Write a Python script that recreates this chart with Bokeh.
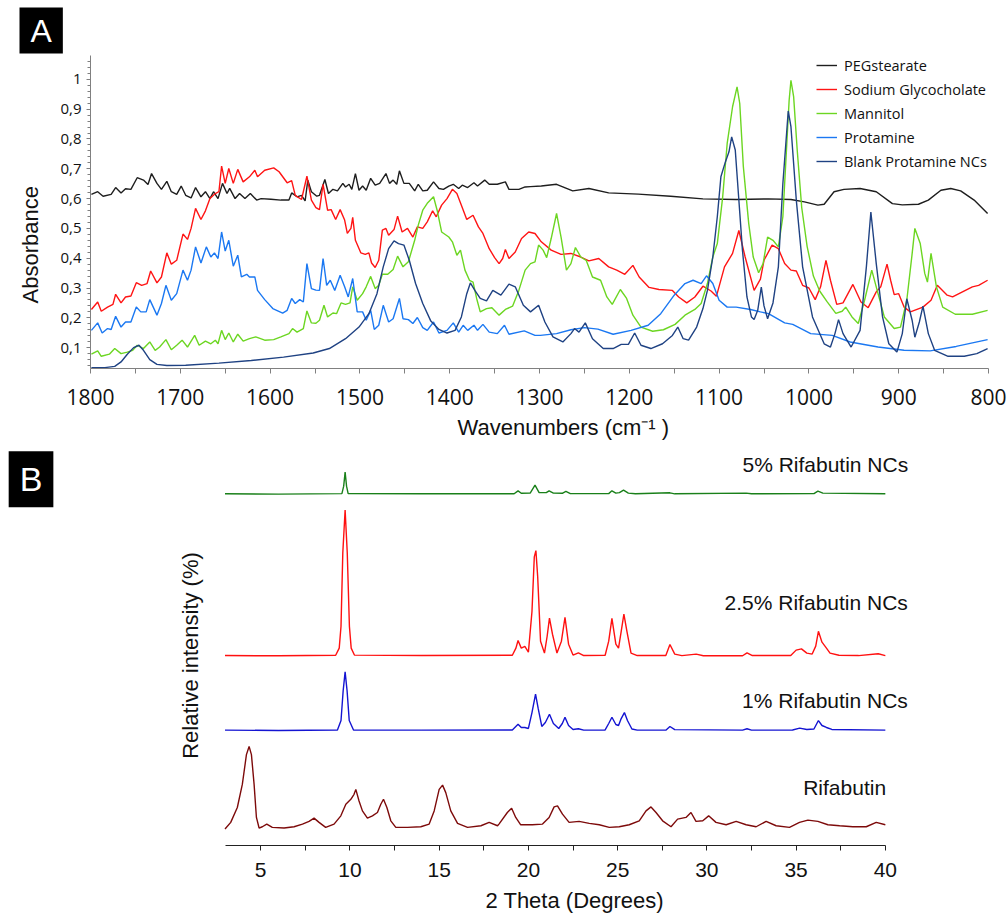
import math
from bokeh.plotting import figure
from bokeh.models import (Range1d, FixedTicker, CustomJSTickFormatter, Legend,
                          LegendItem, Label, Title)
from bokeh.layouts import column
from bokeh.embed import file_html
from bokeh.resources import INLINE

# ---------------- Panel A : FTIR spectra (wavenumber, absorbance) ----------------
peg_stearate = [(1799, .614), (1792, .623), (1786, .608), (1777, .614), (1772, .637), (1766, .619),
    (1761, .633), (1755, .631), (1748, .670), (1741, .662), (1736, .647), (1732, .684), (1726, .651),
    (1721, .631), (1715, .658), (1710, .623), (1704, .614), (1699, .642), (1694, .611), (1688, .602),
    (1683, .637), (1677, .606), (1672, .623), (1667, .600), (1663, .623), (1658, .600), (1653, .651),
    (1648, .617), (1645, .634), (1639, .600), (1634, .617), (1628, .600), (1622, .617), (1615, .595),
    (1610, .600), (1599, .598), (1588, .595), (1579, .595), (1576, .619), (1570, .606), (1565, .611),
    (1561, .592), (1558, .662), (1554, .623), (1548, .608), (1545, .611), (1539, .664), (1535, .617),
    (1530, .631), (1525, .626), (1519, .651), (1516, .639), (1512, .648), (1509, .631), (1505, .684),
    (1501, .628), (1497, .642), (1493, .628), (1488, .668), (1483, .645), (1478, .651), (1471, .684),
    (1467, .651), (1463, .662), (1459, .648), (1456, .693), (1451, .651), (1445, .651), (1439, .626),
    (1435, .648), (1430, .626), (1425, .628), (1418, .656), (1412, .634), (1407, .631), (1401, .642),
    (1396, .648), (1390, .634), (1386, .645), (1380, .637), (1373, .653), (1369, .642), (1361, .662),
    (1356, .648), (1347, .648), (1338, .656), (1334, .631), (1323, .631), (1316, .639), (1310, .640),
    (1298, .642), (1281, .648), (1263, .626), (1245, .634), (1223, .619), (1190, .615), (1154, .608),
    (1118, .599), (1081, .597), (1045, .599), (1020, .597), (1005, .589), (990, .578), (983, .581),
    (972, .623), (961, .631), (943, .634), (925, .623), (907, .583), (896, .579), (878, .581),
    (867, .595), (853, .628), (842, .634), (831, .626), (816, .595), (801, .550)]

sodium_glycocholate = [(1799, .228), (1792, .253), (1788, .222), (1781, .236), (1775, .245),
    (1772, .279), (1766, .250), (1761, .270), (1755, .273), (1749, .318), (1743, .309), (1737, .315),
    (1733, .357), (1726, .317), (1721, .337), (1715, .418), (1710, .380), (1704, .393), (1697, .481),
    (1692, .463), (1688, .500), (1683, .567), (1677, .530), (1672, .559), (1667, .600), (1661, .617),
    (1657, .623), (1654, .709), (1650, .651), (1646, .701), (1641, .651), (1636, .698), (1630, .656),
    (1623, .673), (1617, .695), (1614, .673), (1606, .695), (1596, .703), (1590, .690), (1581, .653),
    (1576, .660), (1572, .611), (1565, .597), (1559, .675), (1554, .595), (1549, .570), (1545, .563),
    (1541, .648), (1536, .561), (1532, .563), (1527, .530), (1522, .563), (1517, .528), (1514, .483),
    (1510, .500), (1508, .537), (1505, .460), (1499, .418), (1494, .413), (1490, .418), (1487, .384),
    (1483, .369), (1479, .393), (1475, .494), (1471, .500), (1468, .477), (1462, .496), (1458, .541),
    (1453, .488), (1447, .500), (1441, .471), (1436, .505), (1430, .500), (1425, .522), (1419, .559),
    (1415, .539), (1409, .578), (1403, .600), (1397, .631), (1392, .617), (1387, .578), (1381, .530),
    (1374, .544), (1368, .505), (1363, .483), (1356, .432), (1350, .402), (1345, .382), (1341, .399),
    (1338, .429), (1334, .399), (1327, .421), (1320, .466), (1312, .488), (1305, .483), (1298, .455),
    (1287, .427), (1276, .413), (1265, .416), (1254, .404), (1245, .391), (1234, .399), (1223, .371),
    (1214, .360), (1205, .346), (1196, .376), (1189, .337), (1178, .302), (1167, .295), (1152, .292),
    (1145, .270), (1136, .250), (1127, .270), (1118, .306), (1109, .290), (1103, .272), (1094, .371),
    (1085, .416), (1078, .493), (1071, .404), (1061, .292), (1054, .330), (1050, .393), (1041, .444),
    (1034, .432), (1027, .382), (1020, .360), (1014, .357), (1007, .309), (1000, .300), (993, .261),
    (987, .304), (981, .393), (976, .326), (969, .245), (962, .250), (951, .312), (942, .253),
    (934, .234), (925, .287), (920, .304), (913, .380), (909, .326), (905, .278), (900, .281),
    (894, .236), (887, .220), (873, .236), (864, .259), (857, .309), (846, .276), (840, .270),
    (829, .287), (818, .304), (811, .309), (801, .326)]

mannitol = [(1799, .078), (1792, .089), (1788, .071), (1779, .078), (1773, .097), (1766, .080),
    (1759, .085), (1753, .091), (1748, .108), (1741, .097), (1734, .119), (1728, .091), (1723, .102),
    (1716, .127), (1710, .093), (1704, .108), (1698, .125), (1692, .102), (1684, .141), (1679, .108),
    (1672, .122), (1666, .113), (1661, .125), (1658, .113), (1654, .158), (1650, .127), (1646, .149),
    (1641, .119), (1636, .145), (1630, .122), (1623, .130), (1616, .136), (1606, .125), (1596, .127),
    (1588, .136), (1579, .147), (1575, .164), (1570, .152), (1563, .164), (1559, .223), (1554, .183),
    (1549, .182), (1545, .192), (1540, .242), (1536, .203), (1530, .216), (1526, .214), (1521, .250),
    (1516, .245), (1511, .250), (1508, .304), (1503, .259), (1497, .281), (1493, .304), (1488, .339),
    (1483, .298), (1479, .309), (1475, .346), (1469, .346), (1463, .362), (1458, .407), (1452, .371),
    (1446, .388), (1439, .460), (1435, .511), (1430, .561), (1425, .584), (1418, .606), (1414, .561),
    (1409, .488), (1401, .471), (1397, .455), (1392, .410), (1388, .427), (1383, .360), (1378, .326),
    (1374, .320), (1370, .265), (1366, .220), (1359, .231), (1353, .234), (1345, .209), (1338, .228),
    (1330, .239), (1323, .292), (1316, .360), (1310, .382), (1305, .388), (1301, .444), (1296, .427),
    (1292, .402), (1287, .466), (1281, .550), (1276, .471), (1270, .360), (1265, .382), (1260, .436),
    (1254, .404), (1248, .393), (1241, .337), (1232, .326), (1225, .270), (1219, .245), (1210, .295),
    (1203, .265), (1196, .209), (1187, .169), (1174, .155), (1162, .160), (1149, .178), (1138, .209),
    (1127, .228), (1120, .248), (1113, .315), (1107, .404), (1102, .449), (1096, .606), (1091, .785),
    (1085, .908), (1080, .975), (1077, .919), (1073, .707), (1067, .516), (1062, .404), (1056, .351),
    (1051, .382), (1046, .471), (1040, .460), (1034, .438), (1029, .539), (1025, .762), (1022, .930),
    (1020, .997), (1017, .942), (1013, .762), (1008, .570), (1002, .440), (995, .340), (988, .290),
    (980, .255), (970, .215), (963, .222), (959, .236), (952, .203), (945, .181), (938, .259),
    (930, .360), (923, .281), (916, .203), (905, .164), (898, .169), (891, .259), (885, .416),
    (882, .500), (876, .449), (871, .349), (868, .320), (864, .416), (858, .304), (851, .236),
    (837, .212), (818, .212), (801, .225)]

protamine = [(1799, .158), (1792, .183), (1787, .149), (1781, .164), (1777, .161), (1772, .205),
    (1766, .169), (1761, .186), (1755, .186), (1749, .236), (1744, .220), (1738, .220), (1734, .261),
    (1726, .209), (1721, .248), (1716, .309), (1710, .259), (1704, .281), (1697, .360), (1692, .326),
    (1688, .360), (1683, .438), (1677, .384), (1671, .438), (1666, .404), (1662, .418), (1658, .399),
    (1654, .488), (1650, .424), (1646, .460), (1641, .373), (1636, .410), (1632, .337), (1626, .346),
    (1623, .337), (1617, .337), (1614, .292), (1606, .261), (1597, .231), (1586, .216), (1581, .225),
    (1576, .265), (1572, .248), (1567, .261), (1563, .253), (1559, .382), (1554, .298), (1549, .293),
    (1545, .292), (1541, .399), (1537, .309), (1533, .326), (1528, .292), (1522, .343), (1517, .304),
    (1513, .270), (1508, .332), (1503, .220), (1497, .220), (1493, .192), (1488, .225), (1484, .161),
    (1479, .175), (1474, .242), (1468, .186), (1463, .197), (1456, .265), (1452, .197), (1446, .194),
    (1441, .181), (1436, .201), (1430, .167), (1425, .158), (1418, .186), (1412, .149), (1403, .158),
    (1396, .183), (1390, .152), (1385, .175), (1380, .158), (1373, .175), (1369, .158), (1363, .178),
    (1356, .152), (1347, .147), (1339, .175), (1334, .145), (1317, .156), (1305, .141), (1299, .141),
    (1281, .147), (1265, .160), (1250, .167), (1235, .162), (1218, .145), (1198, .158), (1179, .175),
    (1165, .214), (1150, .276), (1138, .315), (1129, .326), (1120, .315), (1114, .341), (1107, .315),
    (1100, .259), (1091, .236), (1081, .236), (1065, .228), (1054, .220), (1045, .214), (1027, .183),
    (1018, .178), (998, .147), (974, .141), (954, .119), (923, .102), (894, .091), (865, .089),
    (836, .104), (801, .127)]

blank_protamine_ncs = [(1799, .033), (1784, .033), (1773, .037), (1766, .052), (1759, .078),
    (1752, .100), (1746, .108), (1741, .091), (1734, .060), (1726, .044), (1715, .040), (1694, .041),
    (1657, .048), (1621, .057), (1585, .068), (1552, .082), (1534, .097), (1516, .130), (1501, .169),
    (1490, .214), (1481, .281), (1474, .371), (1468, .432), (1462, .458), (1457, .449), (1451, .444),
    (1445, .393), (1438, .315), (1430, .248), (1421, .189), (1412, .161), (1403, .149), (1394, .158),
    (1387, .203), (1381, .281), (1377, .317), (1372, .292), (1366, .265), (1359, .257), (1352, .292),
    (1343, .276), (1334, .313), (1327, .304), (1318, .242), (1310, .220), (1301, .242), (1294, .186),
    (1285, .136), (1274, .119), (1265, .147), (1261, .164), (1256, .152), (1249, .183), (1241, .130),
    (1229, .097), (1218, .097), (1209, .111), (1201, .111), (1194, .149), (1187, .108), (1176, .097),
    (1163, .113), (1152, .141), (1146, .169), (1140, .130), (1134, .125), (1125, .169), (1118, .231),
    (1113, .292), (1107, .404), (1102, .539), (1098, .673), (1093, .723), (1089, .757), (1086, .807),
    (1082, .763), (1078, .595), (1074, .427), (1069, .270), (1064, .203), (1061, .194), (1057, .225),
    (1053, .303), (1050, .240), (1046, .197), (1040, .250), (1034, .371), (1029, .650), (1023, .894),
    (1020, .841), (1014, .594), (1007, .371), (996, .203), (983, .113), (976, .102), (971, .147),
    (967, .194), (962, .147), (953, .102), (943, .158), (936, .371), (931, .555), (925, .382),
    (918, .203), (911, .113), (902, .085), (896, .147), (891, .264), (885, .191), (882, .135),
    (877, .186), (873, .239), (867, .147), (860, .091), (845, .071), (827, .071), (813, .080),
    (801, .097)]

ftir_names = ["PEGstearate", "Sodium Glycocholate", "Mannitol", "Protamine", "Blank Protamine NCs"]
ftir_series = [peg_stearate, sodium_glycocholate, mannitol, protamine, blank_protamine_ncs]
ftir_colors = ["#1e1e1e", "#ff1414", "#6cd622", "#1b78f2", "#1f4283"]

A_xticks = [800, 900, 1000, 1100, 1200, 1300, 1400, 1500, 1600, 1700, 1800]
A_xminor = [850, 950, 1050, 1150, 1250, 1350, 1450, 1550, 1650, 1750]
A_yticks = [0.1, 0.2, 0.3, 0.4, 0.5, 0.6, 0.7, 0.8, 0.9, 1.0]
A_yminor = [0.04, 0.06, 0.08, 0.12, 0.14, 0.16, 0.18, 0.22, 0.24, 0.26, 0.28, 0.32, 0.34, 0.36,
            0.38, 0.42, 0.44, 0.46, 0.48, 0.52, 0.54, 0.56, 0.58, 0.62, 0.64, 0.66, 0.68, 0.72,
            0.74, 0.76, 0.78, 0.82, 0.84, 0.86, 0.88, 0.92, 0.94, 0.96, 0.98, 1.02, 1.04, 1.06]

# ---------------- Panel B : XRD patterns (2 theta, intensity above own baseline) ----------------
xrd_5pct = [(3.0, 0.3), (6.0, 0.0), (9.55, 0.5), (9.65, 8), (9.73, 22.3), (9.81, 8), (9.9, 0.5),
    (14.0, 0.3), (19.2, 0.3), (19.42, 3.3), (19.6, 0.8), (20.1, 1), (20.37, 9), (20.6, 1.5),
    (21.0, 1.5), (21.16, 3.3), (21.4, 1), (21.9, 0.8), (22.1, 2.7), (22.35, 0.5), (24.5, 0.5),
    (24.68, 3.3), (24.9, 1), (25.1, 1.5), (25.33, 4), (25.6, 1), (26.0, 0.3), (27.93, 1.3),
    (28.2, 0.3), (32.2, 1), (32.5, 0.3), (36.0, 0.5), (36.22, 3), (36.5, 1), (40.0, 0.3)]

xrd_2_5pct = [(3.0, 0.5), (6.0, 0.3), (9.2, 0.8), (9.4, 8), (9.5, 30), (9.6, 104), (9.73, 147.3),
    (9.85, 104), (9.97, 30), (10.07, 8), (10.25, 1), (14.0, 0.5), (19.1, 0.8), (19.3, 8),
    (19.42, 15.7), (19.6, 8), (19.8, 9.7), (20.0, 4), (20.2, 45), (20.33, 100), (20.42, 106.3),
    (20.52, 80), (20.68, 15), (20.9, 3), (21.05, 20), (21.18, 38.3), (21.35, 22), (21.6, 3),
    (21.85, 15), (22.05, 39), (22.25, 12), (22.5, 1), (22.8, 3.3), (23.1, 0.5), (24.3, 0.8),
    (24.5, 15), (24.68, 38), (24.9, 12), (25.05, 8), (25.2, 25), (25.35, 42.3), (25.52, 25),
    (25.75, 3), (26.1, 0.5), (27.7, 0.5), (27.93, 11.7), (28.2, 2), (28.6, 0.5), (29.4, 2),
    (29.8, 0.3), (32.0, 0.3), (32.25, 3.3), (32.55, 0.5), (34.7, 0.5), (35.0, 6), (35.3, 7.3),
    (35.6, 3), (35.9, 2), (36.1, 10), (36.25, 25), (36.45, 14), (36.7, 8), (36.9, 3), (37.4, 0.8),
    (38.5, 0.5), (39.6, 2.3), (40.0, 0.5)]

xrd_1pct = [(3.0, 0.3), (6.0, 0.0), (9.3, 0.5), (9.5, 10), (9.62, 40), (9.73, 59), (9.84, 40),
    (9.96, 10), (10.2, 0.5), (14.0, 0.3), (19.1, 0.5), (19.42, 6.3), (19.6, 3), (19.8, 3),
    (20.0, 2), (20.2, 18), (20.4, 36.7), (20.55, 22), (20.75, 4), (20.95, 8), (21.18, 16.3),
    (21.4, 7), (21.7, 2), (21.9, 7), (22.05, 13.3), (22.25, 5), (22.5, 1), (22.8, 1.7), (23.1, 0.3),
    (24.3, 0.5), (24.5, 7), (24.68, 13.3), (24.9, 6), (25.05, 5), (25.2, 12), (25.38, 18),
    (25.55, 10), (25.8, 1.5), (26.1, 0.3), (27.7, 0.3), (27.93, 4), (28.2, 0.8), (32.0, 0.3),
    (32.25, 1.7), (32.5, 0.3), (34.8, 0.5), (35.2, 2.3), (35.6, 1), (36.0, 1.5), (36.25, 10),
    (36.45, 5), (36.7, 3), (37.0, 1), (40.0, 0.3)]

xrd_rifabutin = [(3.0, -1), (3.32, 5.7), (3.69, 20.7), (3.97, 44), (4.2, 74), (4.35, 82.3),
    (4.48, 74), (4.63, 44), (4.76, 10.7), (4.91, 0), (5.09, 1.3), (5.34, 4), (5.65, 0.7),
    (6.31, 0), (6.87, 1.3), (7.34, 4), (7.71, 6.7), (7.99, 10), (8.27, 5.7), (8.64, 0.7),
    (9.11, 4), (9.49, 12.3), (9.77, 24), (10.05, 29), (10.23, 34), (10.33, 39), (10.51, 27.3),
    (10.7, 17.3), (10.98, 10), (11.26, 12.3), (11.54, 15.7), (11.73, 24), (11.88, 29),
    (12.07, 20.7), (12.29, 7.3), (12.57, 0.7), (13.22, 0.7), (13.97, 1.3), (14.44, 4),
    (14.72, 17.3), (15.0, 39), (15.19, 43.3), (15.37, 35.7), (15.65, 17.3), (16.03, 4.7),
    (16.59, 0.7), (17.34, 2.3), (17.8, 5.7), (18.27, 2.3), (18.35, 4), (18.82, 15.7), (19.06, 20),
    (19.29, 10.7), (19.57, 3.3), (20.22, 3.3), (20.79, 4), (21.16, 10.7), (21.44, 21.3),
    (21.63, 22.3), (21.91, 14), (22.28, 5.7), (22.84, 6.7), (23.41, 4.7), (23.97, 3.3),
    (24.53, 0.7), (25.09, 1.3), (25.65, 3.3), (26.21, 7.3), (26.59, 17.3), (26.87, 21.3),
    (27.15, 15.7), (27.52, 7.3), (27.99, 1.3), (28.36, 9), (28.83, 10.7), (29.11, 15.7),
    (29.39, 6.7), (29.77, 7.3), (30.1, 12.3), (30.51, 5.7), (31.08, 3.3), (31.64, 6.7),
    (32.2, 3.3), (32.76, 1.3), (33.32, 6.7), (33.88, 2.3), (34.63, 0.7), (35.19, 5.7),
    (35.66, 8), (36.22, 6.7), (36.78, 3.3), (37.44, 2.3), (38.18, 1.3), (38.93, 1.3),
    (39.49, 5.7), (40.0, 3.3)]

xrd_names = ["5% Rifabutin NCs", "2.5% Rifabutin NCs", "1% Rifabutin NCs", "Rifabutin"]
xrd_series = [xrd_5pct, xrd_2_5pct, xrd_1pct, xrd_rifabutin]
xrd_offsets = [354.3, 191.0, 116.0, 17.6]
xrd_colors = ["#1a801a", "#ff1010", "#1414d2", "#7d0a0a"]
xrd_label_pos = [(41.28, 384.3), (41.26, 245.0), (41.26, 146.0), (40.04, 58.3)]

B_xticks = [5, 10, 15, 20, 25, 30, 35, 40]
B_xminor = [7.5, 12.5, 17.5, 22.5, 27.5, 32.5, 37.5]

# ---------------- Figure A ----------------
pA = figure(width=1008, height=447, x_range=Range1d(1800, 800), y_range=Range1d(0.03, 1.0867),
            output_backend="svg", toolbar_location=None,
            min_border_left=90, min_border_right=20, min_border_top=53, min_border_bottom=79)
pA.frame_align = False
pA.outline_line_color = None
pA.grid.grid_line_color = None
pA.background_fill_color = "white"

renderers = []
for data, col in zip(ftir_series, ftir_colors):
    xs = [d[0] for d in data]
    ys = [d[1] for d in data]
    renderers.append(pA.line(xs, ys, line_color=col, line_width=1.4))

xa = pA.xaxis[0]
xa.ticker = FixedTicker(ticks=A_xticks, minor_ticks=A_xminor)
xa.major_label_text_font = "Open Sans"
xa.major_label_text_font_size = "21px"
xa.major_label_text_color = "#111111"
xa.major_label_standoff = 15
xa.major_tick_out = 5
xa.major_tick_in = 0
xa.minor_tick_out = 5
xa.minor_tick_in = 0
xa.axis_line_color = "#808080"
xa.major_tick_line_color = "#808080"
xa.minor_tick_line_color = "#808080"

ya = pA.yaxis[0]
ya.bounds = (0.03, 1.08)
ya.ticker = FixedTicker(ticks=A_yticks, minor_ticks=A_yminor)
ya.formatter = CustomJSTickFormatter(
    code="return tick > 0.999 ? '1' : tick.toFixed(1).replace('.', ',');")
ya.major_label_text_font = "Open Sans"
ya.major_label_text_font_size = "15px"
ya.major_label_text_color = "#111111"
ya.major_label_standoff = 5
ya.major_tick_out = 4
ya.major_tick_in = 0
ya.minor_tick_out = 3
ya.minor_tick_in = 0
ya.axis_line_color = "#808080"
ya.major_tick_line_color = "#808080"
ya.minor_tick_line_color = "#808080"

pA.add_layout(Title(text="Wavenumbers (cm\u207b\u00b9 )", align="left", offset=367,
                    vertical_align="bottom", standoff=10,
                    text_font="Liberation Sans", text_font_size="22px",
                    text_font_style="normal", text_color="#111111"), "below")

pA.add_layout(Title(text="Absorbance", align="left", offset=65, vertical_align="bottom",
                    standoff=29, text_font="Liberation Sans", text_font_size="22px",
                    text_font_style="normal", text_color="#111111"), "left")

# panel letter; padding is (horizontal, vertical)
pA.add_layout(Title(text="A", align="left", offset=-71, vertical_align="bottom", standoff=0,
                    text_font="Liberation Sans", text_font_size="32px",
                    text_font_style="normal", text_color="white",
                    background_fill_color="black", padding=(11, 5)), "above")

legend = Legend(items=[LegendItem(label=n, renderers=[r]) for n, r in zip(ftir_names, renderers)],
                location=(726, 197), padding=0, spacing=4, margin=0,
                label_height=20, glyph_height=20, glyph_width=21, label_standoff=7,
                border_line_color=None, background_fill_alpha=0,
                label_text_font="Open Sans", label_text_font_size="14.5px",
                label_text_color="#111111")
pA.add_layout(legend)

# ---------------- Figure B ----------------
pB = figure(width=1008, height=472, x_range=Range1d(-9.58, 41.97), y_range=Range1d(0, 401.3),
            output_backend="svg", toolbar_location=None, y_axis_location=None,
            min_border_left=0, min_border_right=88, min_border_top=0, min_border_bottom=71)
pB.frame_align = False
pB.outline_line_color = None
pB.grid.grid_line_color = None

for data, off, col in zip(xrd_series, xrd_offsets, xrd_colors):
    xs = [d[0] for d in data]
    ys = [off + d[1] for d in data]
    pB.line(xs, ys, line_color=col, line_width=1.4)

for name, (lx, ly) in zip(xrd_names, xrd_label_pos):
    pB.add_layout(Label(x=lx, y=ly, text=name, text_align="right", text_baseline="middle",
                        text_font="Liberation Sans", text_font_size="21px",
                        text_color="#111111"))

xb = pB.xaxis[0]
xb.bounds = (3, 40)
xb.ticker = FixedTicker(ticks=B_xticks, minor_ticks=B_xminor)
xb.major_label_text_font = "Liberation Sans"
xb.major_label_text_font_size = "21px"
xb.major_label_text_color = "#111111"
xb.major_label_standoff = 12
xb.major_tick_out = 5
xb.major_tick_in = 0
xb.minor_tick_out = 5
xb.minor_tick_in = 0
xb.axis_line_color = "#222222"
xb.major_tick_line_color = "#222222"
xb.minor_tick_line_color = "#222222"

pB.add_layout(Title(text="2 Theta (Degrees)", align="left", offset=485, vertical_align="bottom",
                    standoff=13, text_font="Liberation Sans", text_font_size="22px",
                    text_font_style="normal", text_color="#111111"), "below")

pB.add_layout(Label(x=1.067, y=191.6, text="Relative intensity (%)", angle=math.pi / 2,
                    text_align="center", text_baseline="middle", text_font="Liberation Sans",
                    text_font_size="22px", text_color="#111111"))

pB.add_layout(Label(x=-7.87, y=369.3, text="B",
                    text_align="center", text_baseline="middle", text_color="white",
                    text_font="Liberation Sans", text_font_size="34px",
                    background_fill_color="black", padding=(11, 9)))

layout = column(pA, pB, spacing=0)
open("out.html", "w").write(file_html(layout, INLINE))
